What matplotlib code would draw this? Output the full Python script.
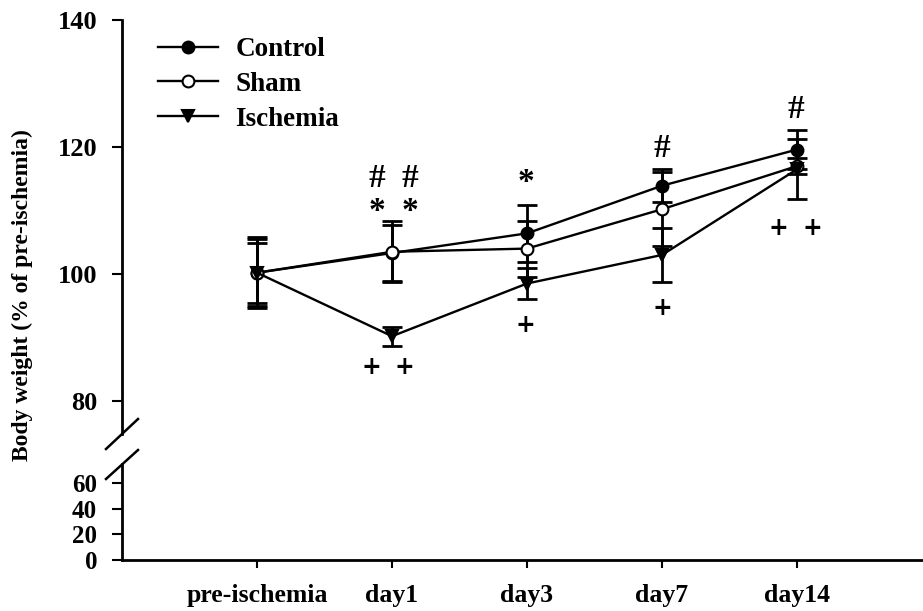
import matplotlib
matplotlib.use("Agg")
import matplotlib.pyplot as plt
from matplotlib.lines import Line2D

plt.rcParams["font.family"] = ["Liberation Serif", "DejaVu Serif"]
plt.rcParams["font.weight"] = "bold"

timepoints = ["pre-ischemia", "day1", "day3", "day7", "day14"]

control = [100.2, 103.3, 106.4, 113.9, 119.6]
control_err = [5.3, 4.4, 4.5, 2.6, 3.1]
sham = [100.2, 103.5, 104.0, 110.2, 117.0]
sham_err = [4.7, 4.8, 4.4, 5.8, 1.2]
ischemia = [100.2, 90.2, 98.5, 103.0, 116.5]
ischemia_err = [5.6, 1.5, 2.5, 4.2, 4.7]

# significance marks: (symbol, x position, y value)
marks = [
    ("#", 0.89, 115.6), ("#", 1.13, 115.6),
    ("*", 0.89, 110.4), ("*", 1.13, 110.4),
    ("+", 0.85, 85.7), ("+", 1.09, 85.7),
    ("*", 1.99, 115.0), ("+", 1.99, 92.3),
    ("#", 3.0, 120.3), ("+", 3.0, 95.0),
    ("#", 3.99, 126.5), ("+", 3.86, 107.7), ("+", 4.11, 107.7),
]

x = list(range(len(timepoints)))

fig = plt.figure(figsize=(9.23, 6.11), dpi=100)
W, H = 923, 611
left = 122 / W
ax = fig.add_axes([left, (H - 434) / H, 1 - left, 414 / H])
axb = fig.add_axes([left, (H - 560) / H, 1 - left, 96 / H])

series = [
    ("Control", control, control_err, dict(marker="o", mfc="black", ms=8.5)),
    ("Sham", sham, sham_err, dict(marker="o", mfc="white", ms=8.5)),
    ("Ischemia", ischemia, ischemia_err, dict(marker="v", mfc="black", ms=8.5)),
]
handles = []
for name, vals, err, mk in series:
    ax.errorbar(x, vals, yerr=err, fmt="none", ecolor="black",
                elinewidth=2, capsize=7, capthick=2, zorder=2)
    h, = ax.plot(x, vals, color="black", lw=1.7, mec="black", mew=1.5,
                 label=name, zorder=3, **mk)
    handles.append(h)

for sym, mx, my in marks:
    if sym == "+":
        ax.text(mx, my, sym, ha="center", va="center_baseline", fontsize=17,
                fontweight="bold", family="DejaVu Sans")
    else:
        ax.text(mx, my, sym, ha="center", va="center_baseline",
                fontsize=24, fontweight="bold")

ax.set_xlim(-1.0, 4.933)
axb.set_xlim(-1.0, 4.933)
ax.set_ylim(74.8, 140)
axb.set_ylim(0, 74.8)
ax.set_yticks([80, 100, 120, 140])
axb.set_yticks([0, 20, 40, 60])

for a in (ax, axb):
    a.spines["top"].set_visible(False)
    a.spines["right"].set_visible(False)
    a.spines["left"].set_linewidth(2)
    a.spines["bottom"].set_linewidth(2)
    a.tick_params(axis="y", direction="out", length=7, width=1.5,
                  labelsize=19, pad=11)
    a.set_facecolor("none")
ax.spines["bottom"].set_visible(False)
ax.tick_params(axis="x", bottom=False, labelbottom=False)
axb.set_xticks(x)
axb.set_xticklabels(timepoints)
axb.tick_params(axis="x", direction="out", length=6, width=1.5,
                labelsize=18.5, pad=11)
axb.tick_params(axis="y", labelsize=18, pad=11)

# axis break slashes
for (x0, y0, x1, y1) in [(106, 449, 138, 419), (106, 479, 138, 450)]:
    fig.add_artist(Line2D([x0 / W, x1 / W], [1 - y0 / H, 1 - y1 / H],
                          color="black", lw=1.8, transform=fig.transFigure))

fig.text(22 / W, 1 - 295 / H, "Body weight (% of pre-ischemia)",
         rotation=90, ha="center", va="center", fontsize=17,
         fontweight="bold")

ax.legend(handles=handles, loc="upper left",
          bbox_to_anchor=(158 / W, 1 - 37 / H), bbox_transform=fig.transFigure,
          frameon=False, fontsize=19.5, handlelength=2.2, handletextpad=0.65,
          labelspacing=0.36, borderpad=0, borderaxespad=0)

fig.savefig("out.png", dpi=100)
